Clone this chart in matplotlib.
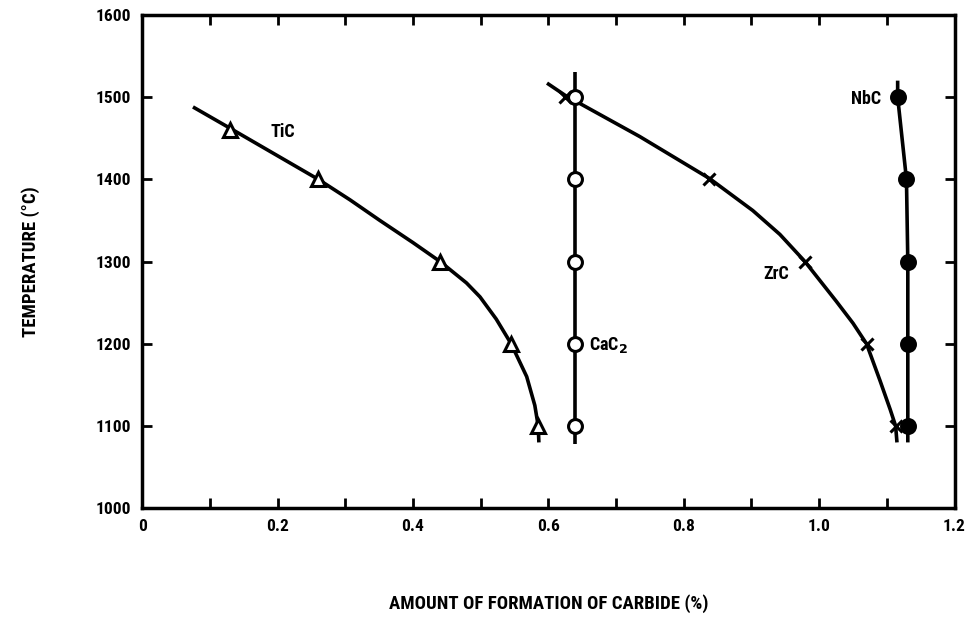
import numpy as np
import matplotlib.pyplot as plt
from matplotlib import font_manager

# font: condensed bold look if available
names = set(f.name for f in font_manager.fontManager.ttflist)
fam = [n for n in ['Roboto Condensed', 'Liberation Sans Narrow', 'DejaVu Sans Condensed'] if n in names] + ['DejaVu Sans']
plt.rcParams['font.family'] = fam
plt.rcParams['font.weight'] = 'bold'
plt.rcParams['axes.labelweight'] = 'bold'

# measured points (markers)
temps = [1500, 1400, 1300, 1200, 1100]
tic_x = [0.13, 0.26, 0.44, 0.545, 0.585]
tic_y = [1460, 1400, 1300, 1200, 1100]
cac2_x = [0.64, 0.64, 0.64, 0.64, 0.64]
zrc_x = [0.625, 0.838, 0.979, 1.07, 1.114]
nbc_x = [1.116, 1.129, 1.131, 1.131, 1.131]

# curves
tic_curve_x = [0.075, 0.13, 0.26, 0.307, 0.351, 0.40, 0.44, 0.479, 0.499,
               0.523, 0.545, 0.568, 0.580, 0.585, 0.586]
tic_curve_y = [1488, 1462, 1400, 1375, 1350, 1323, 1300, 1274, 1257,
               1230, 1200, 1160, 1125, 1100, 1080]
cac2_curve_x = [0.64, 0.64]
cac2_curve_y = [1530, 1078]
zrc_curve_x = [0.598, 0.625, 0.735, 0.838, 0.902, 0.942, 0.979, 1.025, 1.05,
               1.07, 1.09, 1.105, 1.113, 1.115]
zrc_curve_y = [1517, 1502, 1452, 1401, 1362, 1333, 1300, 1252, 1225,
               1200, 1155, 1120, 1100, 1080]
nbc_curve_x = [1.116, 1.116, 1.129, 1.131, 1.131, 1.131, 1.131]
nbc_curve_y = [1520, 1500, 1400, 1300, 1200, 1100, 1080]

fig = plt.figure(figsize=(9.74, 6.19), dpi=100)
ax = fig.add_axes([0.146, 0.179, 0.834, 0.797])

lw = 2.6
for cx, cy in [(tic_curve_x, tic_curve_y), (cac2_curve_x, cac2_curve_y),
               (zrc_curve_x, zrc_curve_y), (nbc_curve_x, nbc_curve_y)]:
    ax.plot(cx, cy, color='black', lw=lw, zorder=2, solid_joinstyle='round', solid_capstyle='butt')

ax.plot(tic_x, tic_y, ls='none', marker='^', ms=10, mfc='white', mec='black', mew=2.2, zorder=3)
ax.plot(cac2_x, temps, ls='none', marker='o', ms=10, mfc='white', mec='black', mew=2.2, zorder=3)
ax.plot(zrc_x, temps, ls='none', marker='x', ms=8, mec='black', mew=2.2, zorder=3)
ax.plot(nbc_x, temps, ls='none', marker='o', ms=10, mfc='black', mec='black', mew=2.2, zorder=3)

tfs = 13
ax.text(0.19, 1457, 'TiC', fontsize=tfs, va='center', ha='left')
ax.text(0.66, 1198, 'CaC$_2$', fontsize=tfs, va='center', ha='left')
ax.text(0.937, 1285, 'ZrC', fontsize=tfs, va='center', ha='center')
ax.text(1.07, 1498, 'NbC', fontsize=tfs, va='center', ha='center')

ax.set_xlim(0, 1.2)
ax.set_ylim(1000, 1600)
xt = np.round(np.arange(0, 1.21, 0.1), 1)
ax.set_xticks(xt)
ax.set_xticklabels(['0' if v == 0 else (f'{v:.1f}' if round(v * 10) % 2 == 0 else '') for v in xt])
ax.set_yticks(np.arange(1000, 1601, 100))
ax.tick_params(direction='in', length=7, width=2, top=True, right=True, labelsize=12.5, pad=8)

for s in ax.spines.values():
    s.set_linewidth(2.5)

ax.set_xlabel('AMOUNT OF FORMATION OF CARBIDE (%)', fontsize=13.5, labelpad=43)
ax.set_ylabel('TEMPERATURE (°C)', fontsize=13.5, labelpad=40)

fig.savefig('out.png', dpi=100)
